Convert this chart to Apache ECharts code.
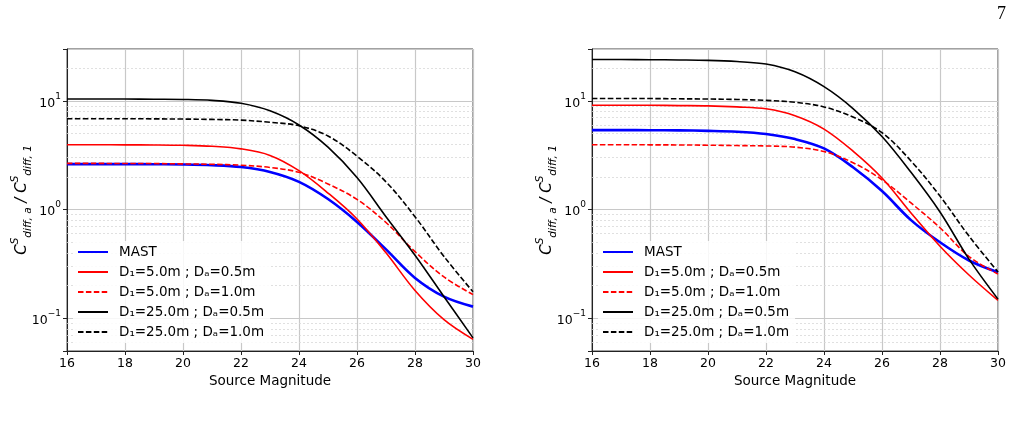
<!DOCTYPE html>
<html>
<head>
<meta charset="utf-8">
<script src="https://cdn.jsdelivr.net/npm/echarts@6/dist/echarts.min.js"></script>
<style>
  html, body { margin: 0; padding: 0; background: #fff; }
  #main { width: 1027px; height: 429px; }
</style>
</head>
<body>
<div id="main"></div>
<script>
// source magnitude samples
var mags = [16, 17, 18, 19, 20, 21, 22, 23, 24, 25, 26, 27, 28, 29, 30];

var names = ['MAST', 'D₁=5.0m ; Dₐ=0.5m', 'D₁=5.0m ; Dₐ=1.0m', 'D₁=25.0m ; Dₐ=0.5m', 'D₁=25.0m ; Dₐ=1.0m'];

// left panel
var leftMast = [2.62, 2.62, 2.62, 2.61, 2.60, 2.56, 2.46, 2.22, 1.80, 1.25, 0.77, 0.43, 0.235, 0.158, 0.128];
var leftD5a05 = [3.95, 3.95, 3.94, 3.93, 3.90, 3.82, 3.62, 3.15, 2.28, 1.42, 0.82, 0.40, 0.18, 0.097, 0.064];
var leftD5a10 = [2.66, 2.66, 2.65, 2.65, 2.63, 2.61, 2.56, 2.44, 2.20, 1.72, 1.24, 0.76, 0.41, 0.24, 0.165];
var leftD25a05 = [10.4, 10.4, 10.4, 10.35, 10.3, 10.1, 9.5, 8.1, 6.0, 3.75, 1.97, 0.86, 0.38, 0.158, 0.066];
var leftD25a10 = [6.85, 6.85, 6.85, 6.83, 6.8, 6.75, 6.65, 6.35, 5.9, 4.75, 3.1, 1.8, 0.86, 0.37, 0.175];

// right panel
var rightMast = [5.38, 5.38, 5.37, 5.35, 5.3, 5.2, 4.95, 4.45, 3.65, 2.45, 1.48, 0.80, 0.50, 0.34, 0.265];
var rightD5a05 = [9.1, 9.1, 9.1, 9.05, 9.0, 8.8, 8.45, 7.3, 5.5, 3.45, 1.95, 0.93, 0.46, 0.25, 0.146];
var rightD5a10 = [3.95, 3.95, 3.94, 3.93, 3.91, 3.88, 3.85, 3.75, 3.42, 2.7, 1.88, 1.15, 0.68, 0.37, 0.255];
var rightD25a05 = [24, 24, 23.9, 23.8, 23.6, 23.0, 21.8, 18.5, 13.5, 8.5, 4.7, 2.2, 0.95, 0.35, 0.15];
var rightD25a10 = [10.5, 10.5, 10.5, 10.45, 10.4, 10.3, 10.1, 9.7, 8.8, 7.1, 5.1, 2.8, 1.33, 0.57, 0.267];

// minor log grid lines
var minorLevels = [0.06, 0.07, 0.08, 0.09, 0.2, 0.3, 0.4, 0.5, 0.6, 0.7, 0.8, 0.9,
                   2, 3, 4, 5, 6, 7, 8, 9, 20];

var styles = [
  { color: '#0000ff', width: 2.6, type: 'solid' },
  { color: '#ff0000', width: 1.6, type: 'solid' },
  { color: '#ff0000', width: 1.6, type: [5.5, 2.4] },
  { color: '#000000', width: 1.6, type: 'solid' },
  { color: '#000000', width: 1.6, type: [5.5, 2.4] }
];

function powLabel(v) {
  var l = Math.log(v) / Math.LN10;
  var e = Math.round(l);
  if (Math.abs(l - e) > 1e-6) return '';
  return '{b|10}{s|' + String(e).replace('-', '−') + '}';
}

function pairs(vals) {
  return mags.map(function (m, i) { return [m, vals[i]]; });
}

function buildSeries(idx, sets) {
  var out = [{
    type: 'line',
    name: '_minor' + idx,
    xAxisIndex: idx,
    yAxisIndex: idx,
    data: [],
    silent: true,
    z: 1,
    markLine: {
      silent: true,
      symbol: 'none',
      animation: false,
      z: 1,
      label: { show: false },
      lineStyle: { type: [2, 2], color: '#d8d8d8', width: 0.8 },
      data: minorLevels.map(function (v) { return { yAxis: v }; })
    }
  }];
  sets.forEach(function (vals, i) {
    out.push({
      type: 'line',
      name: names[i],
      xAxisIndex: idx,
      yAxisIndex: idx,
      data: pairs(vals),
      smooth: 0.35,
      showSymbol: false,
      symbol: 'none',
      z: 3,
      lineStyle: styles[i],
      itemStyle: { color: styles[i].color }
    });
  });
  return out;
}

var tickFont = { fontFamily: 'DejaVu Sans', fontSize: 12.5, color: '#000' };

function xAxis(idx) {
  return {
    type: 'value',
    gridIndex: idx,
    min: 16,
    max: 30,
    interval: 2,
    name: 'Source Magnitude',
    nameLocation: 'middle',
    nameGap: 23,
    nameMoveOverlap: false,
    nameTextStyle: { fontFamily: 'DejaVu Sans', fontSize: 13.5, color: '#000' },
    axisLine: { lineStyle: { color: '#222', width: 1 } },
    axisTick: { length: 4, lineStyle: { color: '#222' } },
    axisLabel: Object.assign({ margin: 6 }, tickFont),
    splitLine: { show: true, lineStyle: { color: '#c8c8c8', width: 1.2 } }
  };
}

function yAxis(idx) {
  return {
    type: 'log',
    logBase: 10,
    gridIndex: idx,
    min: 0.05,
    max: 30,
    name: '{i|C}{sp|S}{sb|diff, a}{t| / }{i|C}{sp|S}{sb|diff, 1}',
    nameLocation: 'middle',
    nameGap: 33,
    nameMoveOverlap: false,
    nameTextStyle: {
      rich: {
        i: { fontFamily: 'DejaVu Sans', fontStyle: 'italic', fontSize: 15, color: '#000', verticalAlign: 'middle', lineHeight: 24 },
        sp: { fontFamily: 'DejaVu Sans', fontStyle: 'italic', fontSize: 10.5, color: '#000', verticalAlign: 'top', lineHeight: 24 },
        sb: { fontFamily: 'DejaVu Sans', fontStyle: 'italic', fontSize: 10.5, color: '#000', verticalAlign: 'bottom', lineHeight: 24 },
        t: { fontFamily: 'DejaVu Sans', fontStyle: 'italic', fontSize: 15, color: '#000', verticalAlign: 'middle', lineHeight: 24 }
      }
    },
    axisLine: { show: true, lineStyle: { color: '#222', width: 1 } },
    axisTick: { length: 4, lineStyle: { color: '#222' } },
    axisLabel: {
      margin: 6,
      formatter: powLabel,
      rich: {
        b: { fontFamily: 'DejaVu Sans', fontSize: 12.5, color: '#000', verticalAlign: 'bottom', lineHeight: 18 },
        s: { fontFamily: 'DejaVu Sans', fontSize: 9, color: '#000', verticalAlign: 'top', lineHeight: 18 }
      }
    },
    splitLine: { show: true, lineStyle: { color: '#c8c8c8', width: 1.2 } }
  };
}

function legend(left) {
  return {
    orient: 'vertical',
    left: left,
    top: 241,
    z: 10,
    padding: [4, 6, 4, 4],
    itemWidth: 30,
    itemHeight: 14,
    itemGap: 6,
    backgroundColor: 'rgba(255,255,255,0.85)',
    itemStyle: { opacity: 0 },
    data: names,
    textStyle: { fontFamily: 'DejaVu Sans', fontSize: 13.5, color: '#000', padding: [0, 0, 0, 6] }
  };
}

var chart = echarts.init(document.getElementById('main'), null, { renderer: 'canvas' });
chart.setOption({
  animation: false,
  backgroundColor: '#fff',
  grid: [
    { left: 67, top: 49, width: 406, height: 302, show: true, borderColor: '#444', borderWidth: 1, backgroundColor: 'transparent' },
    { left: 592, top: 49, width: 406, height: 302, show: true, borderColor: '#444', borderWidth: 1, backgroundColor: 'transparent' }
  ],
  xAxis: [xAxis(0), xAxis(1)],
  yAxis: [yAxis(0), yAxis(1)],
  legend: [legend(73), legend(598)],
  graphic: [{
    type: 'text',
    left: 997,
    top: 5,
    style: { text: '7', font: '18px "Liberation Serif"', fill: '#000' }
  }],
  series: buildSeries(0, [leftMast, leftD5a05, leftD5a10, leftD25a05, leftD25a10])
    .concat(buildSeries(1, [rightMast, rightD5a05, rightD5a10, rightD25a05, rightD25a10]))
});
</script>
</body>
</html>
